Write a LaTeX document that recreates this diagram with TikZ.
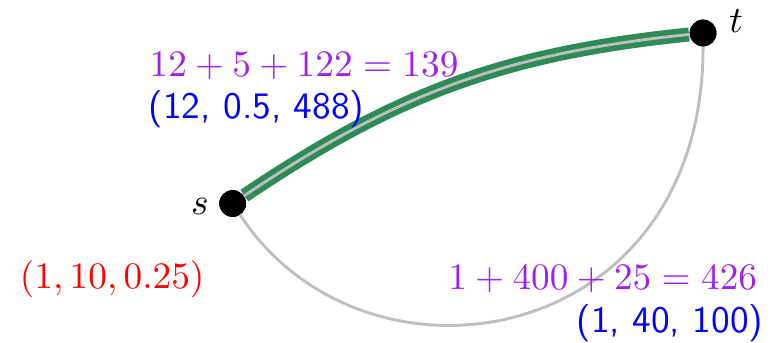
\documentclass[tikz,border=0pt]{standalone}
\usepackage{tikz}
\usetikzlibrary{positioning}
\usepackage{xcolor}
\usepackage{amsmath}

\definecolor{pathgreen}{RGB}{46,139,87}
\definecolor{costpurple}{RGB}{160,32,240}

\begin{document}
\begin{tikzpicture}[
    x=1.036cm, y=1.036cm,
    vert/.style={circle, fill=black, inner sep=0pt, minimum size=0.252cm},
    vlbl/.style={anchor=base, inner sep=0pt},
    edge/.style={gray!50, line width=0.78pt},
    best/.style={draw=pathgreen, double=gray!50, double distance=0.75pt, line width=1.5pt},
    cost/.style={text=costpurple, inner sep=0pt},
    vec/.style={text=blue, font=\sffamily, inner sep=0pt}
]
    \useasboundingbox (0,0) rectangle (7.045,3.109);

    \node[vert] (s) at (2.115,1.259) {};
    \node[vert] (t) at (6.391,2.809) {};

    \draw[edge] (s) .. controls +(1.203,-1.832) and +(0,-2.882) .. (t);
    \draw[best] (s) to[bend left=14] (t);

    \node[vert] at (s) {};
    \node[vert] at (t) {};

    \node[vlbl] (sl) at (1.818,1.155) {$s$};
    \node[vlbl] (tl) at (6.691,2.815) {$t$};

    \node[cost, anchor=base] (ctop) at (2.764,2.418) {$12+5+122=139$};
    \node[vec, anchor=base west] (vtop) at (1.345,2.036) {(12, 0.5, 488)};

    \node[text=red, inner sep=0pt, anchor=base] (w) at (1.02,0.482) {$(1,10,0.25)$};

    \node[cost, anchor=base east] (cbot) at (6.89,0.473) {$1+400+25=426$};
    \node[vec, anchor=base east] (vbot) at (6.945,0.082) {(1, 40, 100)};
\end{tikzpicture}
\end{document}
